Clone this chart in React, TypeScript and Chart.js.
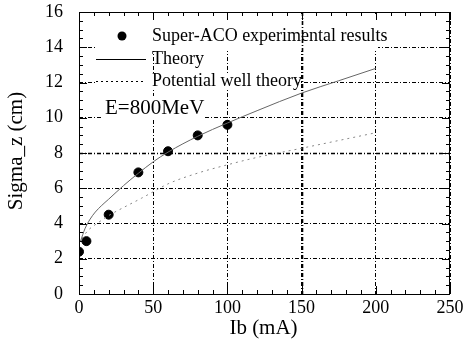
import React, { useEffect, useRef } from "react";
import { Chart, registerables } from "chart.js";

Chart.register(...registerables);

// Experimental points (Super-ACO)
const expX = [0, 5, 20, 40, 60, 80, 100];
const expY = [2.4, 3.0, 4.5, 6.9, 8.1, 9.0, 9.6];

// Theory curve
const theoryX = [1, 4, 7.5, 11, 15, 20, 30, 40, 50, 60, 80, 100, 120, 150, 175, 200];
const theoryY = [3.0, 3.7, 4.25, 4.65, 5.0, 5.38, 6.15, 6.85, 7.5, 8.05, 8.95, 9.7, 10.4, 11.4, 12.1, 12.8];

// Potential well theory curve
const wellX = [2, 6, 13, 20, 31, 42, 50, 60, 80, 100, 120, 150, 200];
const wellY = [3.15, 3.6, 4.05, 4.45, 4.95, 5.43, 5.8, 6.25, 6.86, 7.33, 7.75, 8.27, 9.15];

const legendLabels = ["Super-ACO experimental results", "Theory", "Potential well theory"];
const annotation = "E=800MeV";
const xTitle = "Ib (mA)";
const yTitle = "Sigma_z (cm)";

const xMin = 0, xMax = 250, xStep = 50, xMinor = 10;
const yMin = 0, yMax = 16, yStep = 2, yMinor = 0.5;
const emphX = 150;
const emphY = 8;

const FONT = "'Liberation Serif', 'Times New Roman', serif";
const GRID_DASH = [4, 2, 1, 2];

const overlay = {
  id: "overlay",
  beforeDatasetsDraw(chart: any) {
    const { ctx, chartArea: a, scales } = chart;
    const x = scales.x, y = scales.y;
    ctx.save();
    // white boxes behind legend and annotation
    ctx.fillStyle = "#fff";
    ctx.fillRect(a.left + 16, a.top + 2, 283, 37);
    ctx.fillRect(a.left + 17, a.top + 62, 202, 15);
    ctx.fillRect(a.left + 24, a.top + 84, 100, 24);
    // emphasized grid lines
    ctx.strokeStyle = "#000";
    ctx.lineWidth = 1.6;
    ctx.setLineDash(GRID_DASH);
    const px = Math.round(x.getPixelForValue(emphX)) + 0.5;
    ctx.beginPath();
    ctx.moveTo(px, a.top);
    ctx.lineTo(px, a.bottom);
    ctx.stroke();
    const py = Math.round(y.getPixelForValue(emphY)) + 0.5;
    ctx.beginPath();
    ctx.moveTo(a.left, py);
    ctx.lineTo(a.right, py);
    ctx.stroke();
    ctx.setLineDash([]);
    // frame
    ctx.lineWidth = 1;
    ctx.strokeRect(a.left + 0.5, a.top + 0.5, a.right - a.left - 1, a.bottom - a.top);
    // ticks
    ctx.beginPath();
    for (let v = xMin; v <= xMax + 1e-9; v += xMinor) {
      const p = Math.round(x.getPixelForValue(v)) + 0.5;
      const len = Math.abs(v % xStep) < 1e-9 ? 8 : 4;
      ctx.moveTo(p, a.bottom);
      ctx.lineTo(p, a.bottom - len);
      ctx.moveTo(p, a.top);
      ctx.lineTo(p, a.top + len);
    }
    for (let v = yMin; v <= yMax + 1e-9; v += yMinor) {
      const p = Math.round(y.getPixelForValue(v)) + 0.5;
      const len = Math.abs(v % yStep) < 1e-9 ? 8 : 4;
      ctx.moveTo(a.left, p);
      ctx.lineTo(a.left + len, p);
      ctx.moveTo(a.right, p);
      ctx.lineTo(a.right - len, p);
    }
    ctx.stroke();
    ctx.restore();
  },
  afterDatasetsDraw(chart: any) {
    const { ctx, chartArea: a } = chart;
    ctx.save();
    ctx.fillStyle = "#000";
    ctx.strokeStyle = "#000";
    ctx.font = `18px ${FONT}`;
    ctx.textBaseline = "middle";
    const tx = a.left + 73;
    // row 1
    ctx.beginPath();
    ctx.arc(a.left + 43, a.top + 24, 4.5, 0, Math.PI * 2);
    ctx.fill();
    ctx.fillText(legendLabels[0], tx, a.top + 24);
    // row 2
    ctx.lineWidth = 1;
    ctx.beginPath();
    ctx.moveTo(a.left + 17, a.top + 47.5);
    ctx.lineTo(a.left + 67, a.top + 47.5);
    ctx.stroke();
    ctx.fillText(legendLabels[1], tx, a.top + 47);
    // row 3
    ctx.setLineDash([2, 3]);
    ctx.beginPath();
    ctx.moveTo(a.left + 17, a.top + 69.5);
    ctx.lineTo(a.left + 67, a.top + 69.5);
    ctx.stroke();
    ctx.setLineDash([]);
    ctx.fillText(legendLabels[2], tx, a.top + 69);
    // annotation
    ctx.font = `21px ${FONT}`;
    ctx.fillText(annotation, a.left + 26, a.top + 96);
    // axis titles
    ctx.font = `21px ${FONT}`;
    ctx.textAlign = "center";
    ctx.textBaseline = "alphabetic";
    ctx.fillText(xTitle, (a.left + a.right) / 2 - 1, 334);
    ctx.translate(22, (a.top + a.bottom) / 2 - 2);
    ctx.rotate(-Math.PI / 2);
    ctx.fillText(yTitle, 0, 0);
    ctx.restore();
  },
};

export default function App() {
  const ref = useRef<HTMLCanvasElement | null>(null);
  useEffect(() => {
    if (!ref.current) return;
    const chart = new Chart(ref.current, {
      type: "scatter",
      data: {
        datasets: [
          {
            label: legendLabels[1],
            data: theoryX.map((v, i) => ({ x: v, y: theoryY[i] })),
            showLine: true,
            borderColor: "#666",
            borderWidth: 1,
            pointRadius: 0,
            cubicInterpolationMode: "monotone",
          } as any,
          {
            label: legendLabels[2],
            data: wellX.map((v, i) => ({ x: v, y: wellY[i] })),
            showLine: true,
            borderColor: "#888",
            borderWidth: 1,
            borderDash: [2, 4],
            pointRadius: 0,
            cubicInterpolationMode: "monotone",
          } as any,
          {
            label: legendLabels[0],
            data: expX.map((v, i) => ({ x: v, y: expY[i] })),
            backgroundColor: "#000",
            borderColor: "#000",
            pointRadius: 4.5,
            showLine: false,
          },
        ],
      },
      options: {
        animation: false,
        responsive: false,
        maintainAspectRatio: false,
        layout: { padding: { top: 12, right: 16, left: 0, bottom: 0 } },
        plugins: { legend: { display: false }, tooltip: { enabled: false } },
        scales: {
          x: {
            type: "linear",
            min: xMin,
            max: xMax,
            ticks: { stepSize: xStep, color: "#000", font: { family: FONT, size: 18 }, padding: 3, maxRotation: 0 },
            grid: { color: "#000", lineWidth: 1, drawTicks: false },
            border: { display: false, dash: GRID_DASH },
            afterFit: (s: any) => {
              s.height = 52;
              s.paddingLeft = 0;
              s.paddingRight = 0;
            },
          },
          y: {
            type: "linear",
            min: yMin,
            max: yMax,
            ticks: { stepSize: yStep, color: "#000", font: { family: FONT, size: 18 }, padding: 16 },
            grid: { color: "#000", lineWidth: 1, drawTicks: false },
            border: { display: false, dash: GRID_DASH },
            afterFit: (s: any) => {
              s.width = 79;
              s.paddingTop = 0;
              s.paddingBottom = 0;
            },
          },
        },
      },
      plugins: [overlay],
    });
    return () => chart.destroy();
  }, []);
  return (
    <div style={{ position: "fixed", left: 0, top: 0, width: 466, height: 346, background: "#fff" }}>
      <canvas ref={ref} width={466} height={346} style={{ display: "block", width: 466, height: 346 }} />
    </div>
  );
}
